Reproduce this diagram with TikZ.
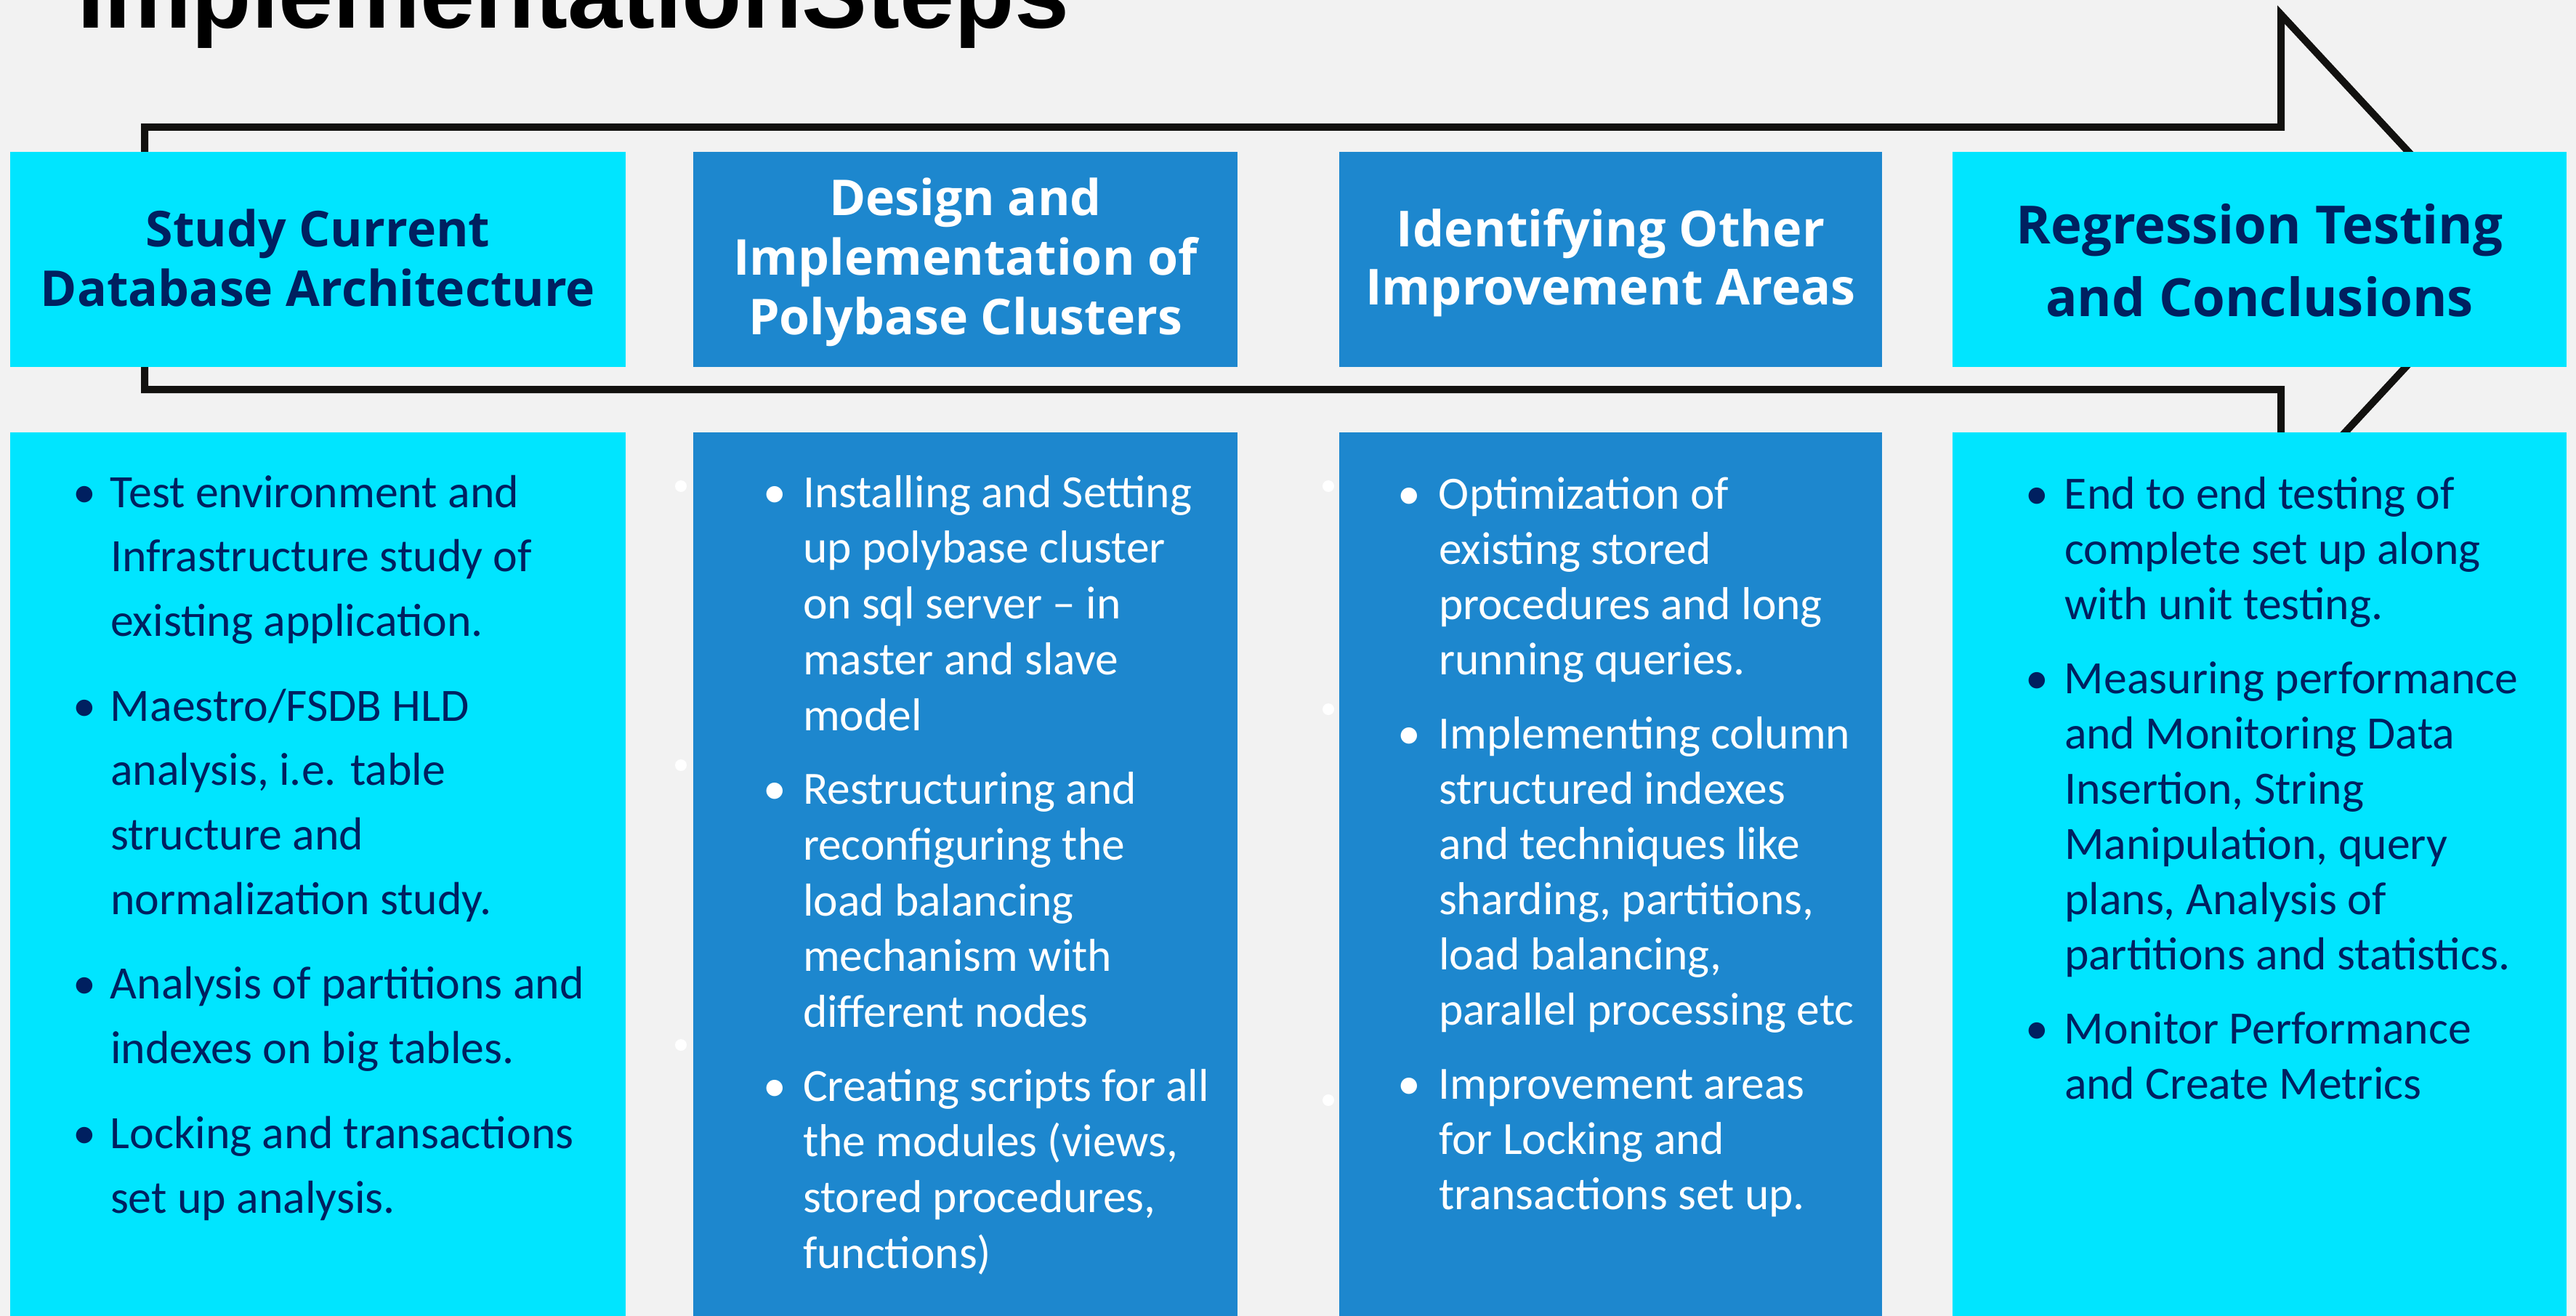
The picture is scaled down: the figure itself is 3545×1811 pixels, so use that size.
\documentclass[tikz,border=0pt]{standalone}
\usepackage{fontspec}
\newfontfamily\bodyfont{Carlito}
\newfontfamily\headfont{Open Sans}
\newfontfamily\titlefont{Liberation Sans}

\definecolor{pagebg}{HTML}{F2F2F2}
\definecolor{cyanfill}{HTML}{00E5FF}
\definecolor{bluefill}{HTML}{1D87CE}
\definecolor{navy}{HTML}{002060}
\definecolor{outline}{HTML}{12110F}

% bullet centred a fixed distance left of the text start
\newcommand{\bul}[1]{\par\noindent\llap{\makebox[#1][c]{\textbullet}}}

\tikzset{
  every node/.style={inner sep=0pt, outer sep=0pt},
  panel/.style={rectangle, draw=none, anchor=north west},
  headbox/.style={panel, minimum height=296pt},
  bodybox/.style={panel, minimum height=1216pt},
  headtext/.style={anchor=base},
  bodytext/.style={anchor=base west},
  straydot/.style={circle, fill=white, minimum width=16pt, minimum height=16pt},
  arrowline/.style={draw=outline, line width=10pt, miter limit=20},
}

\begin{document}
\begin{tikzpicture}[x=1pt, y=-1pt]
  \useasboundingbox (0,0) rectangle (3545,1811);
  \clip (0,0) rectangle (3545,1811);
  \fill[pagebg] (0,0) rectangle (3545,1811);

  % title
  \node[anchor=base west, font=\titlefont\bfseries\fontsize{135}{140}\selectfont] (title) at (106,39) {ImplementationSteps};

  % big process arrow behind the columns
  \coordinate (a1) at (199,175);
  \coordinate (a2) at (3139,175);
  \coordinate (a3) at (3139,20);
  \coordinate (a4) at (3450,355);
  \coordinate (a5) at (3139,690);
  \coordinate (a6) at (3139,536);
  \coordinate (a7) at (199,536);
  \draw[arrowline] (a1) -- (a2) -- (a3) -- (a4) -- (a5) -- (a6) -- (a7) -- cycle;

  % header boxes
  \node[headbox, fill=cyanfill, minimum width=847pt] (h1) at (14,209) {};
  \node[headbox, fill=bluefill, minimum width=749pt] (h2) at (954,209) {};
  \node[headbox, fill=bluefill, minimum width=747pt] (h3) at (1843,209) {};
  \node[headbox, fill=cyanfill, minimum width=845pt] (h4) at (2687,209) {};

  % body boxes
  \node[bodybox, fill=cyanfill, minimum width=847pt] (b1) at (14,595) {};
  \node[bodybox, fill=bluefill, minimum width=749pt] (b2) at (954,595) {};
  \node[bodybox, fill=bluefill, minimum width=747pt] (b3) at (1843,595) {};
  \node[bodybox, fill=cyanfill, minimum width=845pt] (b4) at (2687,595) {};

  % header titles
  \node[headtext, text=navy] (h1t) at (437.5,339)
    {\parbox[t]{840pt}{\centering\headfont\bfseries\fontsize{68}{82}\selectfont Study Current\\Database Architecture}};
  \node[headtext, text=white] (h2t) at (1328.5,297)
    {\parbox[t]{800pt}{\centering\headfont\bfseries\fontsize{68}{82}\selectfont Design and\\Implementation of\\Polybase Clusters}};
  \node[headtext, text=white] (h3t) at (2216.5,339)
    {\parbox[t]{800pt}{\centering\headfont\bfseries\fontsize{68.3}{81}\selectfont Identifying Other\\Improvement Areas}};
  \node[headtext, text=navy] (h4t) at (3109.5,336)
    {\parbox[t]{840pt}{\centering\headfont\bfseries\fontsize{72.5}{100}\selectfont Regression Testing\\and Conclusions}};

  % bullet lists
  \node[bodytext, text=navy] (t1) at (152,698)
    {\parbox[t]{900pt}{\raggedright\bodyfont\fontsize{63.8}{88.7}\selectfont\setlength{\parskip}{28pt}%
      \bul{72pt}Test environment and\\Infrastructure study of\\existing application.
      \bul{72pt}Maestro/FSDB HLD\\analysis, i.e. table\\structure and\\normalization study.
      \bul{72pt}Analysis of partitions and\\indexes on big tables.
      \bul{72pt}Locking and transactions\\set up analysis.}};
  \node[bodytext, text=white] (t2) at (1105,698)
    {\parbox[t]{900pt}{\raggedright\bodyfont\fontsize{63.5}{76.8}\selectfont\setlength{\parskip}{24.5pt}%
      \bul{78pt}Installing and Setting\\up polybase cluster\\on sql server – in\\master and slave\\model
      \bul{78pt}Restructuring and\\reconfiguring the\\load balancing\\mechanism with\\different nodes
      \bul{78pt}Creating scripts for all\\the modules (views,\\stored procedures,\\functions)}};
  \node[bodytext, text=white] (t3) at (1980,700)
    {\parbox[t]{900pt}{\raggedright\bodyfont\fontsize{63.5}{76}\selectfont\setlength{\parskip}{26pt}%
      \bul{82pt}Optimization of\\existing stored\\procedures and long\\running queries.
      \bul{82pt}Implementing column\\structured indexes\\and techniques like\\sharding, partitions,\\load balancing,\\parallel processing etc
      \bul{82pt}Improvement areas\\for Locking and\\transactions set up.}};
  \node[bodytext, text=navy] (t4) at (2841,700)
    {\parbox[t]{900pt}{\raggedright\bodyfont\fontsize{63.7}{76}\selectfont\setlength{\parskip}{26pt}%
      \bul{76pt}End to end testing of\\complete set up along\\with unit testing.
      \bul{76pt}Measuring performance\\and Monitoring Data\\Insertion, String\\Manipulation, query\\plans, Analysis of\\partitions and statistics.
      \bul{76pt}Monitor Performance\\and Create Metrics}};

  % stray list markers left of the blue columns
  \node[straydot] (d1) at (937,669) {};
  \node[straydot] (d2) at (937,1053) {};
  \node[straydot] (d3) at (937,1438) {};
  \node[straydot] (d4) at (1828,669) {};
  \node[straydot] (d5) at (1828,976) {};
  \node[straydot] (d6) at (1828,1514) {};
\end{tikzpicture}
\end{document}
